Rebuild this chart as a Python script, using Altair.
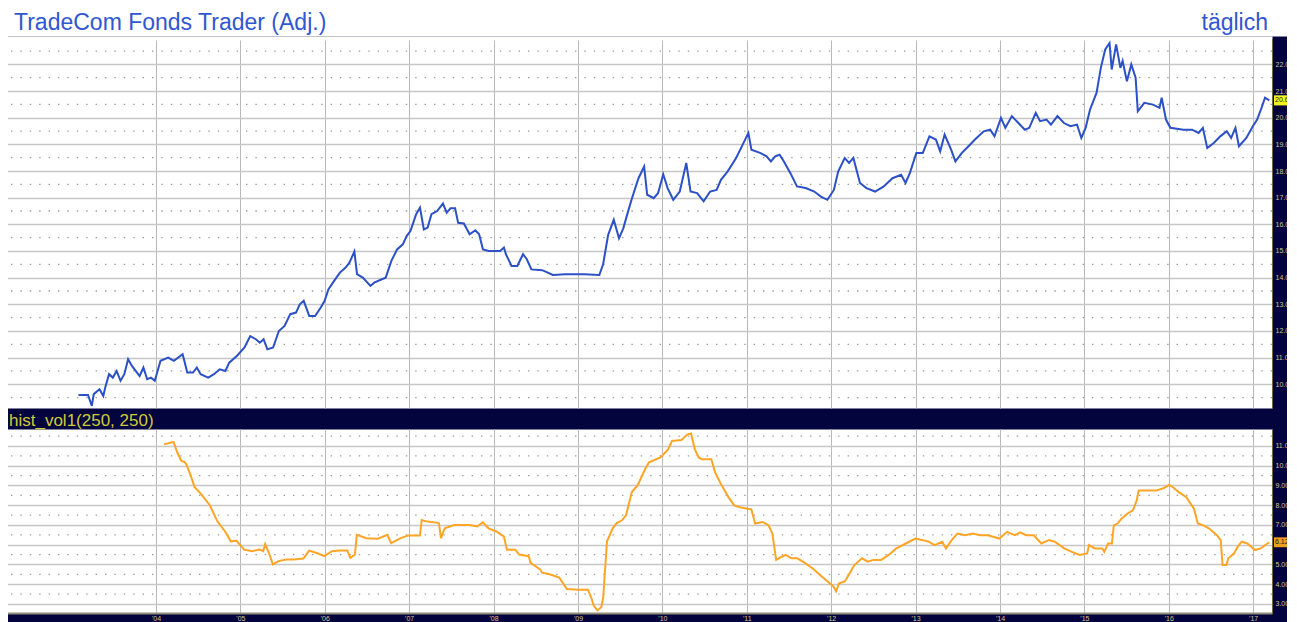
import altair as alt
import pandas as pd

title_text = "TradeCom Fonds Trader (Adj.)"
period_text = "täglich"
panel_text = "hist_vol1(250, 250)"

# TradeCom Fonds Trader (Adj.) - time in fractional years
price_t = [2003.082, 2003.195, 2003.240, 2003.263, 2003.331, 2003.376, 2003.399, 2003.444, 2003.489, 2003.534,
           2003.580, 2003.625, 2003.670, 2003.715, 2003.760, 2003.806, 2003.851, 2003.896, 2003.941, 2003.986,
           2004.054, 2004.145, 2004.212, 2004.316, 2004.371, 2004.439, 2004.484, 2004.529, 2004.619, 2004.687,
           2004.755, 2004.823, 2004.868, 2004.958, 2005.049, 2005.117, 2005.184, 2005.230, 2005.275, 2005.320,
           2005.388, 2005.456, 2005.524, 2005.591, 2005.659, 2005.704, 2005.750, 2005.817, 2005.885, 2005.953,
           2005.998, 2006.043, 2006.111, 2006.179, 2006.247, 2006.292, 2006.351, 2006.382, 2006.450, 2006.541,
           2006.586, 2006.676, 2006.722, 2006.789, 2006.857, 2006.925, 2006.970, 2007.015, 2007.083, 2007.128,
           2007.174, 2007.219, 2007.264, 2007.332, 2007.400, 2007.445, 2007.490, 2007.544, 2007.580, 2007.648,
           2007.716, 2007.784, 2007.829, 2007.874, 2007.942, 2008.078, 2008.123, 2008.146, 2008.213, 2008.281,
           2008.349, 2008.394, 2008.448, 2008.575, 2008.643, 2008.702, 2008.846, 2009.072, 2009.253, 2009.298,
           2009.357, 2009.424, 2009.486, 2009.537, 2009.588, 2009.640, 2009.717, 2009.784, 2009.820, 2009.897,
           2009.949, 2010.010, 2010.062, 2010.129, 2010.206, 2010.283, 2010.334, 2010.412, 2010.489, 2010.566,
           2010.643, 2010.694, 2010.772, 2010.874, 2010.952, 2011.019, 2011.055, 2011.157, 2011.235, 2011.286,
           2011.337, 2011.389, 2011.440, 2011.517, 2011.595, 2011.698, 2011.800, 2011.878, 2011.955, 2012.032,
           2012.083, 2012.160, 2012.212, 2012.263, 2012.341, 2012.418, 2012.521, 2012.623, 2012.726, 2012.829,
           2012.881, 2012.932, 2013.009, 2013.086, 2013.164, 2013.241, 2013.292, 2013.344, 2013.421, 2013.472,
           2013.549, 2013.627, 2013.704, 2013.807, 2013.884, 2013.935, 2014.012, 2014.064, 2014.141, 2014.218,
           2014.295, 2014.347, 2014.424, 2014.475, 2014.552, 2014.604, 2014.681, 2014.758, 2014.835, 2014.913,
           2014.964, 2015.015, 2015.067, 2015.144, 2015.195, 2015.247, 2015.298, 2015.324, 2015.376, 2015.427,
           2015.453, 2015.504, 2015.556, 2015.607, 2015.633, 2015.710, 2015.813, 2015.890, 2015.916, 2015.967,
           2016.019, 2016.173, 2016.276, 2016.353, 2016.404, 2016.456, 2016.533, 2016.610, 2016.687, 2016.739,
           2016.790, 2016.831, 2016.919, 2016.996, 2017.047, 2017.099, 2017.140, 2017.191]
price_v = [9.60, 9.60, 9.19, 9.63, 9.81, 9.56, 9.88, 10.38, 10.25, 10.50,
           10.13, 10.38, 10.94, 10.69, 10.50, 10.31, 10.63, 10.19, 10.25, 10.13,
           10.88, 11.00, 10.88, 11.13, 10.44, 10.44, 10.63, 10.38, 10.25, 10.38,
           10.56, 10.50, 10.81, 11.06, 11.38, 11.81, 11.69, 11.56, 11.69, 11.31,
           11.38, 12.00, 12.19, 12.63, 12.69, 13.00, 13.13, 12.56, 12.56, 12.88,
           13.13, 13.56, 13.88, 14.19, 14.38, 14.56, 14.98, 14.13, 14.00, 13.69,
           13.81, 13.94, 14.00, 14.63, 15.06, 15.25, 15.56, 15.75, 16.38, 16.63,
           15.81, 15.88, 16.38, 16.50, 16.78, 16.44, 16.60, 16.60, 16.06, 16.03,
           15.63, 15.78, 15.63, 15.06, 15.00, 15.00, 15.13, 14.88, 14.44, 14.44,
           14.88, 14.69, 14.31, 14.28, 14.19, 14.10, 14.13, 14.13, 14.10, 14.50,
           15.60, 16.17, 15.48, 15.85, 16.42, 16.98, 17.73, 18.17, 17.11, 16.98,
           17.17, 17.88, 17.36, 16.92, 17.23, 18.30, 17.23, 17.17, 16.86, 17.23,
           17.29, 17.67, 17.98, 18.49, 18.99, 19.43, 18.80, 18.68, 18.55, 18.36,
           18.55, 18.61, 18.36, 17.92, 17.42, 17.36, 17.23, 17.04, 16.92, 17.29,
           17.98, 18.49, 18.30, 18.49, 17.55, 17.36, 17.23, 17.42, 17.73, 17.86,
           17.55, 17.92, 18.68, 18.68, 19.30, 19.18, 18.74, 19.37, 18.80, 18.36,
           18.68, 18.93, 19.18, 19.49, 19.55, 19.30, 19.99, 19.62, 20.06, 19.80,
           19.55, 19.62, 20.18, 19.87, 19.93, 19.74, 20.06, 19.80, 19.68, 19.74,
           19.24, 19.62, 20.31, 20.93, 21.87, 22.56, 22.80, 21.81, 22.75, 21.87,
           22.13, 21.37, 22.00, 21.50, 20.24, 20.56, 20.49, 20.37, 20.75, 19.93,
           19.62, 19.55, 19.55, 19.43, 19.62, 18.86, 19.05, 19.30, 19.49, 19.24,
           19.62, 18.93, 19.24, 19.68, 19.93, 20.37, 20.75, 20.65]

# hist_vol1(250, 250)
vol_t = [2004.095, 2004.208, 2004.253, 2004.299, 2004.344, 2004.367, 2004.412, 2004.457, 2004.548, 2004.638,
         2004.729, 2004.819, 2004.887, 2004.955, 2005.045, 2005.136, 2005.226, 2005.271, 2005.294, 2005.339,
         2005.385, 2005.452, 2005.543, 2005.633, 2005.747, 2005.814, 2005.905, 2005.995, 2006.086, 2006.176,
         2006.267, 2006.303, 2006.357, 2006.380, 2006.493, 2006.629, 2006.742, 2006.787, 2006.900, 2006.991,
         2007.127, 2007.149, 2007.217, 2007.308, 2007.353, 2007.376, 2007.421, 2007.534, 2007.715, 2007.805,
         2007.873, 2007.941, 2008.032, 2008.122, 2008.158, 2008.258, 2008.303, 2008.416, 2008.439, 2008.552,
         2008.575, 2008.665, 2008.778, 2008.869, 2009.005, 2009.118, 2009.163, 2009.186, 2009.231, 2009.276,
         2009.299, 2009.344, 2009.412, 2009.457, 2009.525, 2009.570, 2009.638, 2009.706, 2009.796, 2009.842,
         2009.977, 2010.068, 2010.113, 2010.226, 2010.294, 2010.339, 2010.385, 2010.430, 2010.467, 2010.580,
         2010.625, 2010.693, 2010.783, 2010.851, 2010.919, 2011.009, 2011.054, 2011.099, 2011.190, 2011.258,
         2011.303, 2011.348, 2011.416, 2011.461, 2011.529, 2011.597, 2011.665, 2011.778, 2011.868, 2011.958,
         2012.026, 2012.058, 2012.094, 2012.162, 2012.207, 2012.275, 2012.365, 2012.433, 2012.501, 2012.591,
         2012.682, 2012.772, 2012.885, 2012.998, 2013.089, 2013.156, 2013.224, 2013.315, 2013.360, 2013.428,
         2013.495, 2013.586, 2013.676, 2013.767, 2013.857, 2013.993, 2014.083, 2014.174, 2014.241, 2014.309,
         2014.400, 2014.490, 2014.580, 2014.648, 2014.761, 2014.852, 2014.942, 2015.033, 2015.055, 2015.123,
         2015.213, 2015.236, 2015.281, 2015.326, 2015.349, 2015.394, 2015.439, 2015.507, 2015.575, 2015.620,
         2015.643, 2015.711, 2015.846, 2015.937, 2016.004, 2016.050, 2016.118, 2016.208, 2016.298, 2016.344,
         2016.411, 2016.479, 2016.570, 2016.615, 2016.637, 2016.683, 2016.705, 2016.773, 2016.818, 2016.864,
         2016.931, 2017.022, 2017.089, 2017.189]
vol_v = [11.08, 11.20, 10.67, 10.25, 10.17, 10.00, 9.50, 8.92, 8.50, 8.00,
         7.17, 6.67, 6.17, 6.20, 5.75, 5.67, 5.75, 5.67, 6.03, 5.58,
         5.00, 5.17, 5.25, 5.25, 5.30, 5.70, 5.58, 5.42, 5.67, 5.70,
         5.70, 5.33, 5.50, 6.50, 6.33, 6.30, 6.50, 6.08, 6.33, 6.47,
         6.47, 7.25, 7.17, 7.13, 7.08, 6.33, 6.83, 7.00, 7.00, 6.92,
         7.13, 6.83, 6.67, 6.42, 5.75, 5.75, 5.50, 5.42, 5.08, 4.75,
         4.58, 4.50, 4.33, 3.75, 3.72, 3.72, 3.25, 2.92, 2.67, 2.83,
         3.33, 6.17, 6.83, 7.08, 7.25, 7.50, 8.67, 9.00, 9.83, 10.17,
         10.42, 10.83, 11.25, 11.30, 11.58, 11.63, 10.83, 10.42, 10.33, 10.33,
         9.66, 9.08, 8.41, 7.99, 7.90, 7.82, 7.79, 7.07, 7.15, 6.98,
         6.56, 5.23, 5.39, 5.48, 5.31, 5.31, 5.14, 4.81, 4.47, 4.14,
         3.89, 3.64, 4.05, 4.14, 4.47, 4.97, 5.31, 5.14, 5.23, 5.23,
         5.48, 5.81, 6.06, 6.31, 6.23, 6.15, 5.98, 6.15, 5.81, 6.23,
         6.56, 6.48, 6.56, 6.48, 6.48, 6.31, 6.65, 6.48, 6.62, 6.48,
         6.48, 6.06, 6.23, 6.15, 5.81, 5.64, 5.48, 5.56, 5.98, 5.81,
         5.81, 5.64, 6.06, 6.06, 6.98, 7.07, 7.32, 7.57, 7.74, 8.24,
         8.74, 8.74, 8.74, 8.86, 9.03, 8.91, 8.66, 8.41, 7.82, 7.07,
         6.98, 6.82, 6.48, 6.23, 4.97, 4.97, 5.31, 5.56, 5.90, 6.15,
         6.06, 5.73, 5.81, 6.121]

price_ticks = list(range(10, 23))
vol_ticks = list(range(3, 12))
year_ticks = list(range(2004, 2018))
price_last_text = "20.650"
vol_last_text = "6.121"

NAVY = "#03033d"
TAN = "#d2c68c"
X_DOMAIN = [2002.235, 2017.223]
P_DOMAIN = [9.11, 22.99]
V_DOMAIN = [2.54, 11.86]
W = 1265
FONT = "Liberation Sans"

price_df = pd.DataFrame({"t": price_t, "v": price_v})
vol_df = pd.DataFrame({"t": vol_t, "v": vol_v})
p_half = pd.DataFrame({"g": [k + 0.5 for k in range(9, 23) if P_DOMAIN[0] < k + 0.5 < P_DOMAIN[1]]})
v_half = pd.DataFrame({"g": [k + 0.5 for k in range(2, 12) if V_DOMAIN[0] < k + 0.5 < V_DOMAIN[1]]})
p_last = pd.DataFrame({"v": [price_v[-1]], "lo": [price_v[-1] - 0.19], "hi": [price_v[-1] + 0.19],
                       "label": [price_last_text]})
v_last = pd.DataFrame({"v": [vol_v[-1]], "lo": [vol_v[-1] - 0.25], "hi": [vol_v[-1] + 0.25],
                       "label": [vol_last_text]})


def x_enc(show_labels):
    if show_labels:
        ax = alt.Axis(values=year_ticks, labels=True, ticks=False, domain=True,
                      domainColor="#8e8e78", domainWidth=2, grid=True, gridColor="#b9b9b9",
                      gridWidth=1, labelExpr="\"'\" + substring(toString(datum.value), 2)",
                      labelColor=TAN, labelFontSize=7, labelFont=FONT, labelPadding=1, title=None)
    else:
        ax = alt.Axis(orient="top", values=year_ticks, labels=False, ticks=False, domain=True,
                      domainColor="white", domainWidth=4, grid=True, gridColor="#b9b9b9",
                      gridWidth=1, title=None)
    return alt.X("t:Q", scale=alt.Scale(domain=X_DOMAIN, nice=False, zero=False), axis=ax)


def y_axis(ticks, last_value):
    # the axis label covered by the highlighted last-value box is left out
    expr = ("abs(datum.value - %f) < 0.3 ? '' : format(datum.value, '.3f')" % last_value)
    return alt.Axis(orient="right", values=ticks, labelExpr=expr, grid=True,
                    gridColor="#c6c6c6", gridWidth=1.5, ticks=False, domain=True,
                    domainColor="#6f6a40", domainWidth=1, labelColor=TAN,
                    labelFontSize=7, labelFont=FONT, labelPadding=3, title=None)


def panel(df, half, last, domain, ticks, color, height, show_x, fill_last, extra=None):
    yscale = alt.Scale(domain=domain, nice=False, zero=False)
    ax = y_axis(ticks, float(last["v"].iloc[0]))
    dots = alt.Chart(half).mark_rule(color="#9a9a9a", strokeWidth=1.3, strokeDash=[1.4, 8]).encode(
        y=alt.Y("g:Q", scale=yscale, axis=ax))
    line = alt.Chart(df).mark_line(color=color, strokeWidth=2).encode(
        x=x_enc(show_x), y=alt.Y("v:Q", scale=yscale, axis=ax))
    box = alt.Chart(last).mark_rect(color=fill_last).encode(
        x=alt.value(W + 2), x2=alt.value(W + 24), y=alt.Y("lo:Q", scale=yscale, axis=ax), y2="hi:Q")
    txt = alt.Chart(last).mark_text(align="left", baseline="middle", fontSize=7, font=FONT,
                                    color="#1a1a1a").encode(
        x=alt.value(W + 3), y=alt.Y("v:Q", scale=yscale, axis=ax), text="label:N")
    layers = [dots, line, box, txt]
    if extra is not None:
        layers.append(extra)
    return alt.layer(*layers).properties(width=W, height=height)


dummy = pd.DataFrame({"k": [0]})
title_panel = alt.layer(
    alt.Chart(dummy).mark_text(text=title_text, align="left", baseline="alphabetic", font=FONT,
                               fontSize=23, color="#2f57d1").encode(x=alt.value(7), y=alt.value(25)),
    alt.Chart(dummy).mark_text(text=period_text, align="right", baseline="alphabetic", font=FONT,
                               fontSize=23, color="#2f57d1").encode(x=alt.value(1261), y=alt.value(25)),
).properties(width=1289, height=31)

top = panel(price_df, p_half, p_last, P_DOMAIN, price_ticks, "#2c50c6", 370, False, "#f2f21e")

hist_label = alt.Chart(dummy).mark_text(text=panel_text, align="left", baseline="alphabetic", font=FONT,
                                        fontSize=17, color="#cccc3c").encode(x=alt.value(2), y=alt.value(-3))
bottom = panel(vol_df, v_half, v_last, V_DOMAIN, vol_ticks, "#ffa526", 184, True, "#f0a020",
               extra=hist_label)

upper = alt.vconcat(title_panel, top, spacing=0)
chart = alt.vconcat(upper, bottom, spacing=0).resolve_scale(
    x="independent", y="independent"
).properties(
    padding={"left": -3, "top": -4, "right": -10, "bottom": 0}, background=NAVY
).configure_view(
    fill="white", stroke="transparent"
)

chart.save("out.html", embed_options={"renderer": "svg", "actions": False})
